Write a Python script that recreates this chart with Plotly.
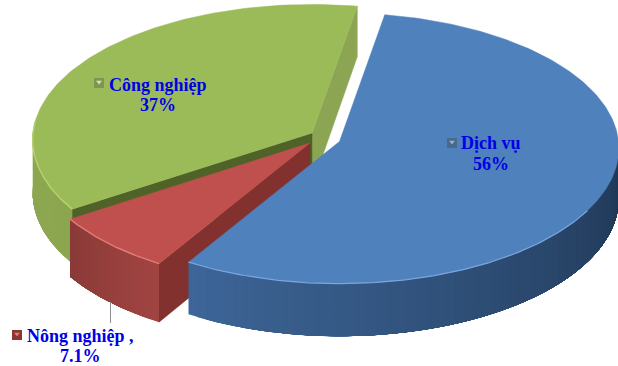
import numpy as np
import plotly.graph_objects as go

# Economic structure shares, in percent
categories = ["Dịch vụ", "Nông nghiệp", "Công nghiệp"]
shares = [56, 7.1, 37]
share_labels = ["56%", "7.1%", "37%"]

top_colors = ["#4f81bd", "#c0504d", "#9bbb59"]
wall_start = ["#3d6597", "#a04442", "#8ea852"]
wall_end = ["#1e3552", "#8a3a37", "#8ca64f"]
cut_colors = ["#335a8c", "#82312f", "#4f6228"]
key_colors = ["#48688c", "#8e3431", "#7f9455"]
key_lights = ["#8fb3da", "#d9807c", "#d6e6a8"]

# Disc projection: pixel radii, foreshortening and per-slice wall height
RX, RY, PERSP = 279.0, 135.0, 0.05
START_DEG = 9.8
APEX = {"Dịch vụ": (339.5, 141.5), "Nông nghiệp": (310, 143), "Công nghiệp": (312, 133)}
WALL = {"Dịch vụ": 50.0, "Nông nghiệp": 56.0, "Công nghiệp": 53.0}


def project(apex, deg, wall):
    t = np.radians(deg)
    u, v = np.sin(t), -np.cos(t)
    p = 1.0 / (1.0 - PERSP * v)
    return apex[0] + RX * u * p, apex[1] + RY * v * p, wall * p


def arc(apex, a, b, wall=0.0, n=120):
    pts = [project(apex, d, wall) for d in np.linspace(a, b, n)]
    return [q[0] for q in pts], [q[1] for q in pts], [q[2] for q in pts]


def mix(c1, c2, f):
    a = [int(c1[i:i + 2], 16) for i in (1, 3, 5)]
    b = [int(c2[i:i + 2], 16) for i in (1, 3, 5)]
    return "rgb(%d,%d,%d)" % tuple(round(a[i] + (b[i] - a[i]) * f) for i in range(3))


fig = go.Figure()


def poly(xs, ys, color, width=0.5):
    fig.add_trace(go.Scatter(
        x=list(xs) + [xs[0]], y=list(ys) + [ys[0]], mode="lines", fill="toself",
        fillcolor=color, line=dict(color=color, width=width), hoverinfo="skip", showlegend=False,
    ))


def edge(xs, ys, color, width=1.5):
    fig.add_trace(go.Scatter(x=xs, y=ys, mode="lines", line=dict(color=color, width=width),
                             hoverinfo="skip", showlegend=False))


def outer_wall(apex, a, b, wall, c_from, c_to, strips=36):
    # Each strip runs on to the far end of the arc so later strips overlap it without seams
    ds = np.linspace(a, b, strips + 1)
    for i in range(strips):
        x, y, h = arc(apex, ds[i], b, wall, 60)
        xb = x + x[::-1]
        yb = y + [y[j] + h[j] for j in range(59, -1, -1)]
        poly(xb, yb, mix(c_from, c_to, i / (strips - 1)), width=0)


def cut_wall(apex, deg, wall, color):
    x, y, h = project(apex, deg, wall)
    poly([x, apex[0], apex[0], x], [y, apex[1], apex[1] + wall, y + h], color)


total = sum(shares)
spans = [s / total * 360.0 for s in shares]
blue_a, blue_b = START_DEG, START_DEG + spans[0]
red_a, red_b = blue_b, blue_b + spans[1]
green_a, green_b = red_b, red_b + spans[2]

# Painted back to front: green slice, red slice, blue slice
ap, w = APEX["Công nghiệp"], WALL["Công nghiệp"]
cut_wall(ap, green_b, w, "#8ca552")
cut_wall(ap, green_a, w, cut_colors[2])
outer_wall(ap, green_a, 270, w, wall_end[2], wall_start[2], strips=12)
x, y, _ = arc(ap, green_a, green_b)
poly(x + [ap[0]], y + [ap[1]], top_colors[2])
x, y, _ = arc(ap, green_a, 275)
edge(x, y, "#b5d070")

ap, w = APEX["Nông nghiệp"], WALL["Nông nghiệp"]
cut_wall(ap, red_a, w, cut_colors[1])
outer_wall(ap, red_a, red_b, w, wall_start[1], wall_end[1], strips=14)
x, y, _ = arc(ap, red_a, red_b)
poly(x + [ap[0]], y + [ap[1]], top_colors[1])
edge(x, y, "#e07a76")

ap, w = APEX["Dịch vụ"], WALL["Dịch vụ"]
outer_wall(ap, blue_b, 90, w, wall_start[0], wall_end[0], strips=60)
x, y, _ = arc(ap, blue_a, blue_b, n=240)
poly(x + [ap[0]], y + [ap[1]], top_colors[0])
x, y, _ = arc(ap, 120, blue_b)
edge(x, y, "#79a6de", width=1.2)

# Data labels with their small legend keys
LABEL_FONT = dict(family="Liberation Serif", size=18, color="#0000e6")
label_rows = [
    (0, 491, 143, 164, 452, 143),
    (1, 80, 336, 356, 17, 335),
    (2, 158, 85, 105, 99, 83),
]
for idx, cx, y1, y2, kx, ky in label_rows:
    name = categories[idx] + (" ," if idx == 1 else "")
    fig.add_annotation(x=cx, y=y1, text="<b>%s</b>" % name, showarrow=False, font=LABEL_FONT)
    fig.add_annotation(x=cx, y=y2, text="<b>%s</b>" % share_labels[idx], showarrow=False, font=LABEL_FONT)
    fig.add_trace(go.Scatter(x=[kx], y=[ky], mode="markers", hoverinfo="skip", showlegend=False,
                             marker=dict(symbol="square", size=10, color=key_colors[idx])))
    fig.add_trace(go.Scatter(x=[kx], y=[ky - 1], mode="markers", hoverinfo="skip", showlegend=False,
                             marker=dict(symbol="triangle-down", size=5, color=key_lights[idx])))

# Leader line for the small slice
fig.add_shape(type="line", x0=110.5, x1=110.5, y0=302, y1=323, line=dict(color="#8c8c8c", width=1))

fig.update_layout(
    width=618, height=366, margin=dict(l=0, r=0, t=0, b=0),
    paper_bgcolor="white", plot_bgcolor="white", showlegend=False,
    xaxis=dict(range=[0, 618], visible=False, fixedrange=True),
    yaxis=dict(range=[366, 0], visible=False, fixedrange=True),
)
fig.write_html("out.html", config={"displayModeBar": False})
